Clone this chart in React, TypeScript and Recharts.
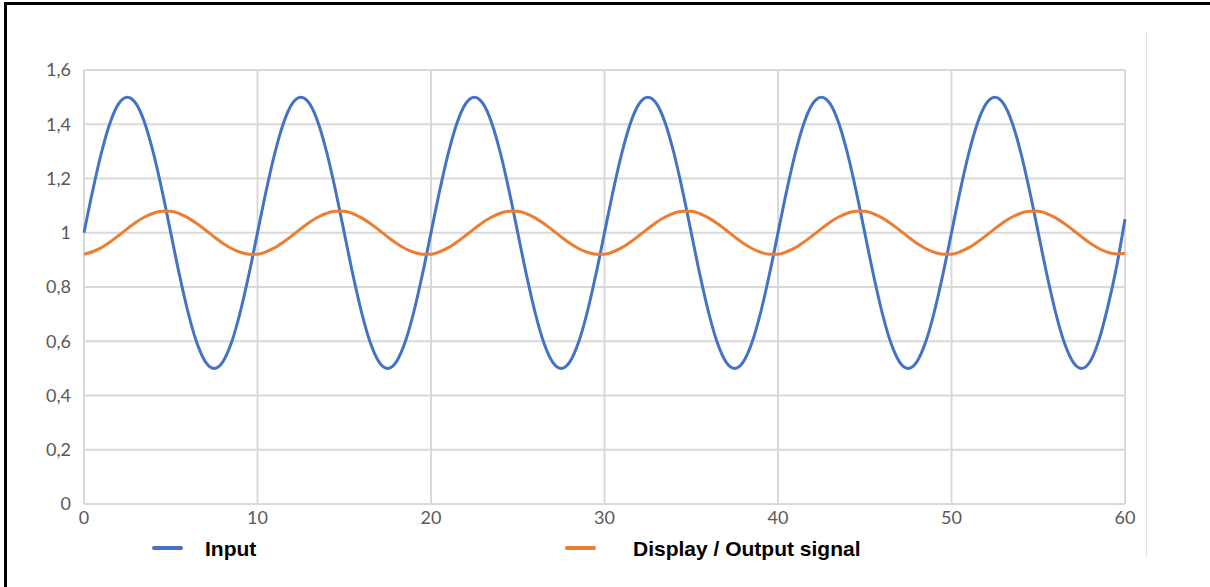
import { LineChart, Line, XAxis, YAxis, CartesianGrid } from 'recharts';

// time axis, sampled every 0.5
const time = [
  0, 0.5, 1, 1.5, 2, 2.5, 3, 3.5, 4, 4.5, 5, 5.5, 6, 6.5, 7, 7.5, 8, 8.5, 9, 9.5,
  10, 10.5, 11, 11.5, 12, 12.5, 13, 13.5, 14, 14.5, 15, 15.5, 16, 16.5, 17, 17.5, 18, 18.5, 19, 19.5,
  20, 20.5, 21, 21.5, 22, 22.5, 23, 23.5, 24, 24.5, 25, 25.5, 26, 26.5, 27, 27.5, 28, 28.5, 29, 29.5,
  30, 30.5, 31, 31.5, 32, 32.5, 33, 33.5, 34, 34.5, 35, 35.5, 36, 36.5, 37, 37.5, 38, 38.5, 39, 39.5,
  40, 40.5, 41, 41.5, 42, 42.5, 43, 43.5, 44, 44.5, 45, 45.5, 46, 46.5, 47, 47.5, 48, 48.5, 49, 49.5,
  50, 50.5, 51, 51.5, 52, 52.5, 53, 53.5, 54, 54.5, 55, 55.5, 56, 56.5, 57, 57.5, 58, 58.5, 59, 59.5,
  60,
];

const input = [
  1.0, 1.155, 1.294, 1.405, 1.476, 1.5, 1.476, 1.405, 1.294, 1.155, 1.0, 0.845, 0.706, 0.595, 0.524, 0.5, 0.524, 0.595, 0.706, 0.845,
  1.0, 1.155, 1.294, 1.405, 1.476, 1.5, 1.476, 1.405, 1.294, 1.155, 1.0, 0.845, 0.706, 0.595, 0.524, 0.5, 0.524, 0.595, 0.706, 0.845,
  1.0, 1.155, 1.294, 1.405, 1.476, 1.5, 1.476, 1.405, 1.294, 1.155, 1.0, 0.845, 0.706, 0.595, 0.524, 0.5, 0.524, 0.595, 0.706, 0.845,
  1.0, 1.155, 1.294, 1.405, 1.476, 1.5, 1.476, 1.405, 1.294, 1.155, 1.0, 0.845, 0.706, 0.595, 0.524, 0.5, 0.524, 0.595, 0.706, 0.845,
  1.0, 1.155, 1.294, 1.405, 1.476, 1.5, 1.476, 1.405, 1.294, 1.155, 1.0, 0.845, 0.706, 0.595, 0.524, 0.5, 0.524, 0.595, 0.706, 0.845,
  1.0, 1.155, 1.294, 1.405, 1.476, 1.5, 1.476, 1.405, 1.294, 1.155, 1.0, 0.845, 0.706, 0.595, 0.524, 0.5, 0.526, 0.605, 0.725, 0.87,
  1.05,
];

const output = [
  0.921, 0.93, 0.945, 0.966, 0.99, 1.015, 1.039, 1.058, 1.072, 1.079, 1.079, 1.07, 1.055, 1.034, 1.01, 0.985, 0.961, 0.942, 0.928, 0.921,
  0.921, 0.93, 0.945, 0.966, 0.99, 1.015, 1.039, 1.058, 1.072, 1.079, 1.079, 1.07, 1.055, 1.034, 1.01, 0.985, 0.961, 0.942, 0.928, 0.921,
  0.921, 0.93, 0.945, 0.966, 0.99, 1.015, 1.039, 1.058, 1.072, 1.079, 1.079, 1.07, 1.055, 1.034, 1.01, 0.985, 0.961, 0.942, 0.928, 0.921,
  0.921, 0.93, 0.945, 0.966, 0.99, 1.015, 1.039, 1.058, 1.072, 1.079, 1.079, 1.07, 1.055, 1.034, 1.01, 0.985, 0.961, 0.942, 0.928, 0.921,
  0.921, 0.93, 0.945, 0.966, 0.99, 1.015, 1.039, 1.058, 1.072, 1.079, 1.079, 1.07, 1.055, 1.034, 1.01, 0.985, 0.961, 0.942, 0.928, 0.921,
  0.921, 0.93, 0.945, 0.966, 0.99, 1.015, 1.039, 1.058, 1.072, 1.079, 1.079, 1.07, 1.055, 1.034, 1.01, 0.985, 0.961, 0.942, 0.928, 0.922,
  0.924,
];

const xTicks = [0, 10, 20, 30, 40, 50, 60];
const yTicks = [0, 0.2, 0.4, 0.6, 0.8, 1, 1.2, 1.4, 1.6];

const seriesNames = ['Input', 'Display / Output signal'];
const colors = ['#4472C4', '#ED7D31'];

const data = time.map((t, i) => ({ t, input: input[i], output: output[i] }));

const fmtY = (v: number) => String(Number(v.toFixed(1))).replace('.', ',');

const tickStyle = { fill: '#595959', fontSize: 18, fontFamily: 'Lato, "Open Sans", sans-serif' };

export default function App() {
  return (
    <div
      style={{
        position: 'absolute',
        left: 0,
        top: 0,
        width: 1210,
        height: 587,
        background: '#fff',
        overflow: 'hidden',
      }}
    >
      <LineChart
        width={1210}
        height={587}
        data={data}
        margin={{ top: 70, right: 85, bottom: 53, left: 24 }}
      >
        <CartesianGrid stroke="#d9d9d9" strokeWidth={2} />
        <XAxis
          dataKey="t"
          type="number"
          domain={[0, 60]}
          ticks={xTicks}
          tickLine={false}
          axisLine={{ stroke: '#d9d9d9', strokeWidth: 2 }}
          tick={tickStyle}
          tickMargin={1}
          height={30}
        />
        <YAxis
          type="number"
          domain={[0, 1.6]}
          ticks={yTicks}
          tickFormatter={fmtY}
          tickLine={false}
          axisLine={false}
          tick={tickStyle}
          tickMargin={7}
          width={60}
        />
        <Line
          type="monotone"
          dataKey="input"
          name={seriesNames[0]}
          stroke={colors[0]}
          strokeWidth={3}
          dot={false}
          isAnimationActive={false}
        />
        <Line
          type="monotone"
          dataKey="output"
          name={seriesNames[1]}
          stroke={colors[1]}
          strokeWidth={3}
          dot={false}
          isAnimationActive={false}
        />
      </LineChart>

      {/* legend */}
      {[
        { left: 152, textLeft: 205 },
        { left: 565, textLeft: 633 },
      ].map((p, i) => (
        <div key={seriesNames[i]}>
          <div
            style={{
              position: 'absolute',
              left: p.left,
              top: 546,
              width: 31,
              height: 4,
              borderRadius: 2,
              background: colors[i],
            }}
          />
          <div
            style={{
              position: 'absolute',
              left: p.textLeft,
              top: 537,
              fontFamily: '"Liberation Sans", Arial, sans-serif',
              fontWeight: 'bold',
              fontSize: 21,
              lineHeight: '24px',
              color: '#000',
              whiteSpace: 'nowrap',
            }}
          >
            {seriesNames[i]}
          </div>
        </div>
      ))}

      {/* frame pieces */}
      <div style={{ position: 'absolute', left: 1146, top: 32, width: 1, height: 526, background: '#e3e3e3' }} />
      <div
        style={{
          position: 'absolute',
          left: 4,
          top: 2,
          right: 0,
          bottom: 0,
          borderTop: '3px solid #000',
          borderLeft: '3px solid #000',
        }}
      />
    </div>
  );
}
